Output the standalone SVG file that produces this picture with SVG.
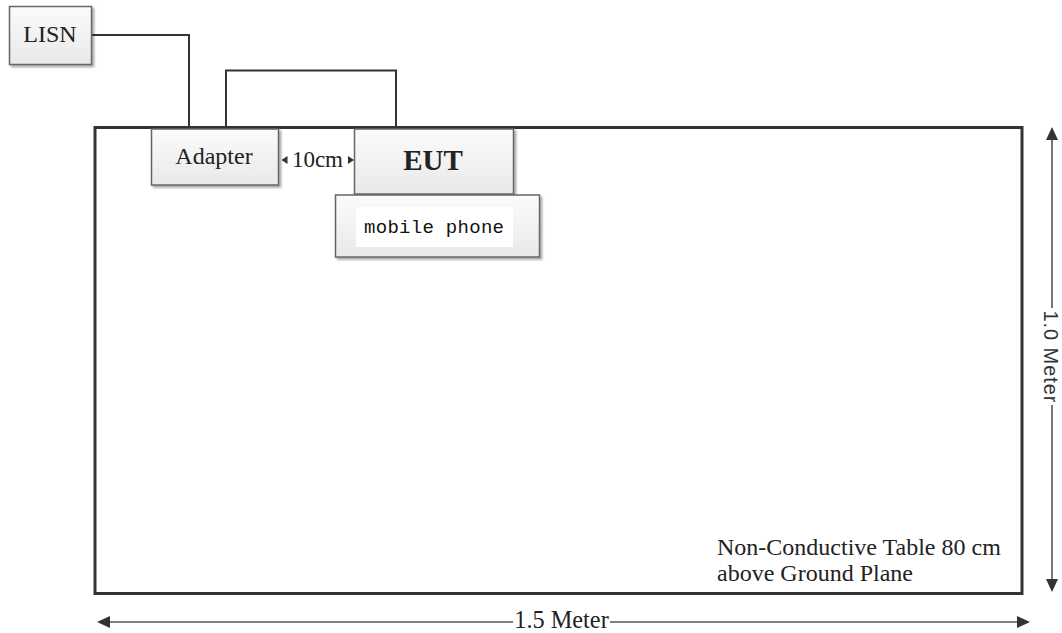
<svg xmlns="http://www.w3.org/2000/svg" width="1062" height="633" viewBox="0 0 1062 633">
<style>
.box{fill:url(#g);stroke:#666;stroke-width:1.5}
.serif{font-family:"Liberation Serif","Times New Roman",serif;fill:#222}
.wire{fill:none;stroke:#333;stroke-width:2}
.dim{fill:none;stroke:#555;stroke-width:1.6}
.head{fill:#333}
</style>
<defs>
<linearGradient id="g" x1="0" y1="0" x2="0" y2="1">
<stop offset="0" stop-color="#fbfbfb"/>
<stop offset="1" stop-color="#e9e9e9"/>
</linearGradient>
<filter id="sh" x="-10%" y="-10%" width="130%" height="140%">
<feDropShadow dx="2" dy="2" stdDeviation="1.2" flood-color="#000" flood-opacity="0.35"/>
</filter>
</defs>
<rect width="1062" height="633" fill="#fff"/>
<g id="table">
<rect x="95" y="127.5" width="927" height="466" fill="#fff" stroke="#333" stroke-width="3"/>
<text class="serif" x="717" y="555" font-size="24">Non-Conductive Table 80 cm</text>
<text class="serif" x="717" y="581" font-size="24">above Ground Plane</text>
</g>
<g id="connectors">
<polyline class="wire" points="92,35 189,35 189,127"/>
<polyline class="wire" points="226,127 226,70.5 396,70.5 396,127"/>
</g>
<g id="lisn">
<rect class="box" x="9.5" y="6.5" width="82" height="58" filter="url(#sh)"/>
<text class="serif" x="50" y="42" font-size="24" text-anchor="middle">LISN</text>
</g>
<g id="adapter">
<rect class="box" x="151.5" y="129" width="127" height="56" filter="url(#sh)"/>
<text class="serif" x="214" y="164" font-size="24" text-anchor="middle">Adapter</text>
</g>
<g id="eut">
<rect class="box" x="354.5" y="129" width="159" height="65" filter="url(#sh)"/>
<text class="serif" x="433" y="170" font-size="29" font-weight="bold" text-anchor="middle">EUT</text>
</g>
<g id="mobile-phone">
<rect class="box" x="335.5" y="195" width="204" height="62" filter="url(#sh)"/>
<rect x="356" y="207" width="157" height="40" fill="#fff"/>
<text x="434" y="233" font-family="'Liberation Mono','Courier New',monospace" font-size="19" fill="#111" text-anchor="middle" textLength="140">mobile phone</text>
</g>
<g id="dim-10cm">
<polygon class="head" points="281.5,160 287.5,156 287.5,164"/>
<polygon class="head" points="354,160 348,156 348,164"/>
<text class="serif" x="317.5" y="167" font-size="23" text-anchor="middle" textLength="51">10cm</text>
</g>
<g id="dim-width">
<line class="dim" x1="106" y1="622" x2="513" y2="622"/>
<line class="dim" x1="610" y1="622" x2="1020" y2="622"/>
<polygon class="head" points="97,622 110,616 110,628"/>
<polygon class="head" points="1030,622 1017,616 1017,628"/>
<text class="serif" x="561.5" y="628" font-size="24.3" text-anchor="middle">1.5 Meter</text>
</g>
<g id="dim-height">
<line class="dim" x1="1052" y1="137" x2="1052" y2="308"/>
<line class="dim" x1="1052" y1="405" x2="1052" y2="582"/>
<polygon class="head" points="1052,127 1046,140 1058,140"/>
<polygon class="head" points="1052,592 1046,579 1058,579"/>
<text x="0" y="0" transform="translate(1044,356.5) rotate(90)" font-family="'Liberation Sans',Arial,sans-serif" font-size="20" fill="#333" text-anchor="middle" textLength="92">1.0 Meter</text>
</g>
</svg>
